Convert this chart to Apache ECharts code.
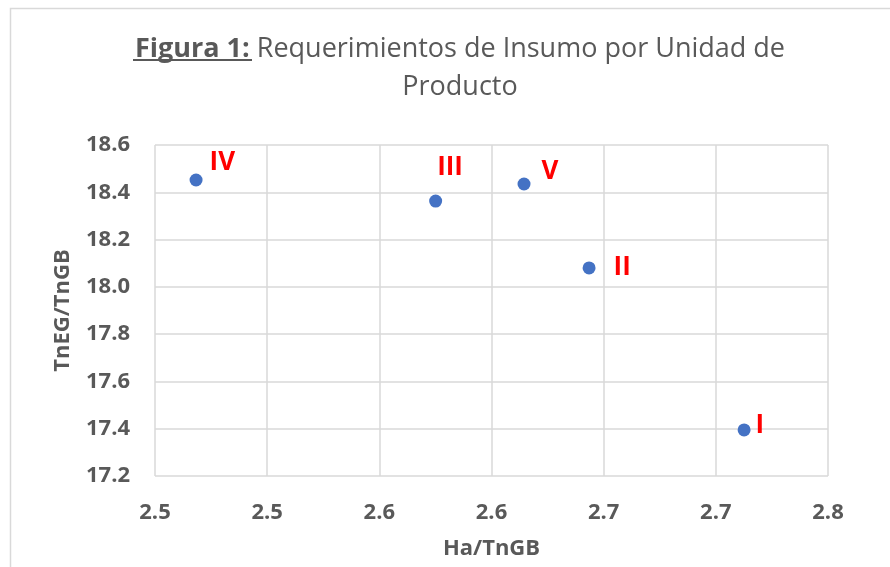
<!DOCTYPE html>
<html>
<head>
	<meta charset="utf-8" />
	<title>Figura 1</title>
	<script src="https://cdn.jsdelivr.net/npm/echarts@6/dist/echarts.min.js"></script>
	<style>
		html, body { margin: 0; padding: 0; background: #fff; }
		#chartmain { width: 890px; height: 567px; }
	</style>
</head>
<body>
	<div id="chartmain"></div>
</body>
<script type="text/javascript">
	// datos
	var names = ['I', 'II', 'III', 'IV', 'V'];
	var haTnGB = [2.7626, 2.6935, 2.6251, 2.5183, 2.6645];
	var tnegTnGB = [17.395, 18.08, 18.363, 18.452, 18.435];
	// etiquetas del eje x tal como salen en Excel (1 decimal)
	var xTickLabels = ['2.5', '2.5', '2.6', '2.6', '2.7', '2.7', '2.8'];

	var gray = '#595959';
	var font = 'Open Sans';
	// desplazamiento de cada etiqueta (I, II, III, IV, V)
	var offsets = [[0, -4], [13, 0], [-10, -33], [2, -17], [6, -12]];

	var myChart = echarts.init(document.getElementById('chartmain'));

	var option = {
		animation: false,
		backgroundColor: '#fff',
		textStyle: { fontFamily: font },
		title: {
			text: '{b|Figura 1:} Requerimientos de Insumo por Unidad de\nProducto',
			left: 455,
			top: 25,
			textAlign: 'center',
			textStyle: {
				fontFamily: font,
				fontSize: 27,
				fontWeight: 'normal',
				color: gray,
				lineHeight: 38,
				rich: {
					b: { fontFamily: font, fontSize: 27, fontWeight: 'bold', color: gray, lineHeight: 38 }
				}
			}
		},
		graphic: [
			{
				type: 'rect',
				shape: { x: 10.5, y: 8.5, width: 900, height: 600 },
				style: { fill: 'none', stroke: '#d9d9d9', lineWidth: 1.5 },
				silent: true
			},
			{
				// subrayado de "Figura 1:"
				type: 'line',
				shape: { x1: 133, y1: 60, x2: 252, y2: 60 },
				style: { stroke: gray, lineWidth: 2 },
				silent: true
			}
		],
		grid: { left: 155, right: 62, top: 145, bottom: 91 },
		xAxis: {
			type: 'value',
			min: 2.5,
			max: 2.8,
			interval: 0.05,
			name: 'Ha/TnGB',
			nameLocation: 'middle',
			nameGap: 62,
			nameTextStyle: { fontFamily: font, fontSize: 22, fontWeight: 'bold', color: gray },
			axisLine: { show: false },
			axisTick: { show: false },
			splitLine: { show: true, lineStyle: { color: '#d9d9d9', width: 1.5 } },
			axisLabel: {
				margin: 26,
				fontFamily: font,
				fontSize: 22,
				fontWeight: 'bold',
				color: gray,
				formatter: function (v) {
					return xTickLabels[Math.round((v - 2.5) / 0.05)];
				}
			}
		},
		yAxis: {
			type: 'value',
			min: 17.2,
			max: 18.6,
			interval: 0.2,
			name: 'TnEG/TnGB',
			nameLocation: 'middle',
			nameGap: 81,
			nameTextStyle: { fontFamily: font, fontSize: 22, fontWeight: 'bold', color: gray },
			axisLine: { show: false },
			axisTick: { show: false },
			splitLine: { show: true, lineStyle: { color: '#d9d9d9', width: 1.5 } },
			axisLabel: {
				margin: 25,
				fontFamily: font,
				fontSize: 22,
				fontWeight: 'bold',
				color: gray,
				formatter: function (v) { return v.toFixed(1); }
			}
		},
		series: [
			{
				type: 'scatter',
				symbolSize: 13,
				itemStyle: { color: '#4472C4', opacity: 1 },
				data: names.map(function (n, i) {
					return {
						name: n,
						value: [haTnGB[i], tnegTnGB[i]],
						label: { offset: offsets[i] }
					};
				}),
				label: {
					show: true,
					position: 'right',
					formatter: '{b}',
					fontFamily: font,
					fontSize: 26,
					fontWeight: 'bold',
					color: '#ff0000'
				}
			}
		]
	};
	myChart.setOption(option);
</script>
</html>
